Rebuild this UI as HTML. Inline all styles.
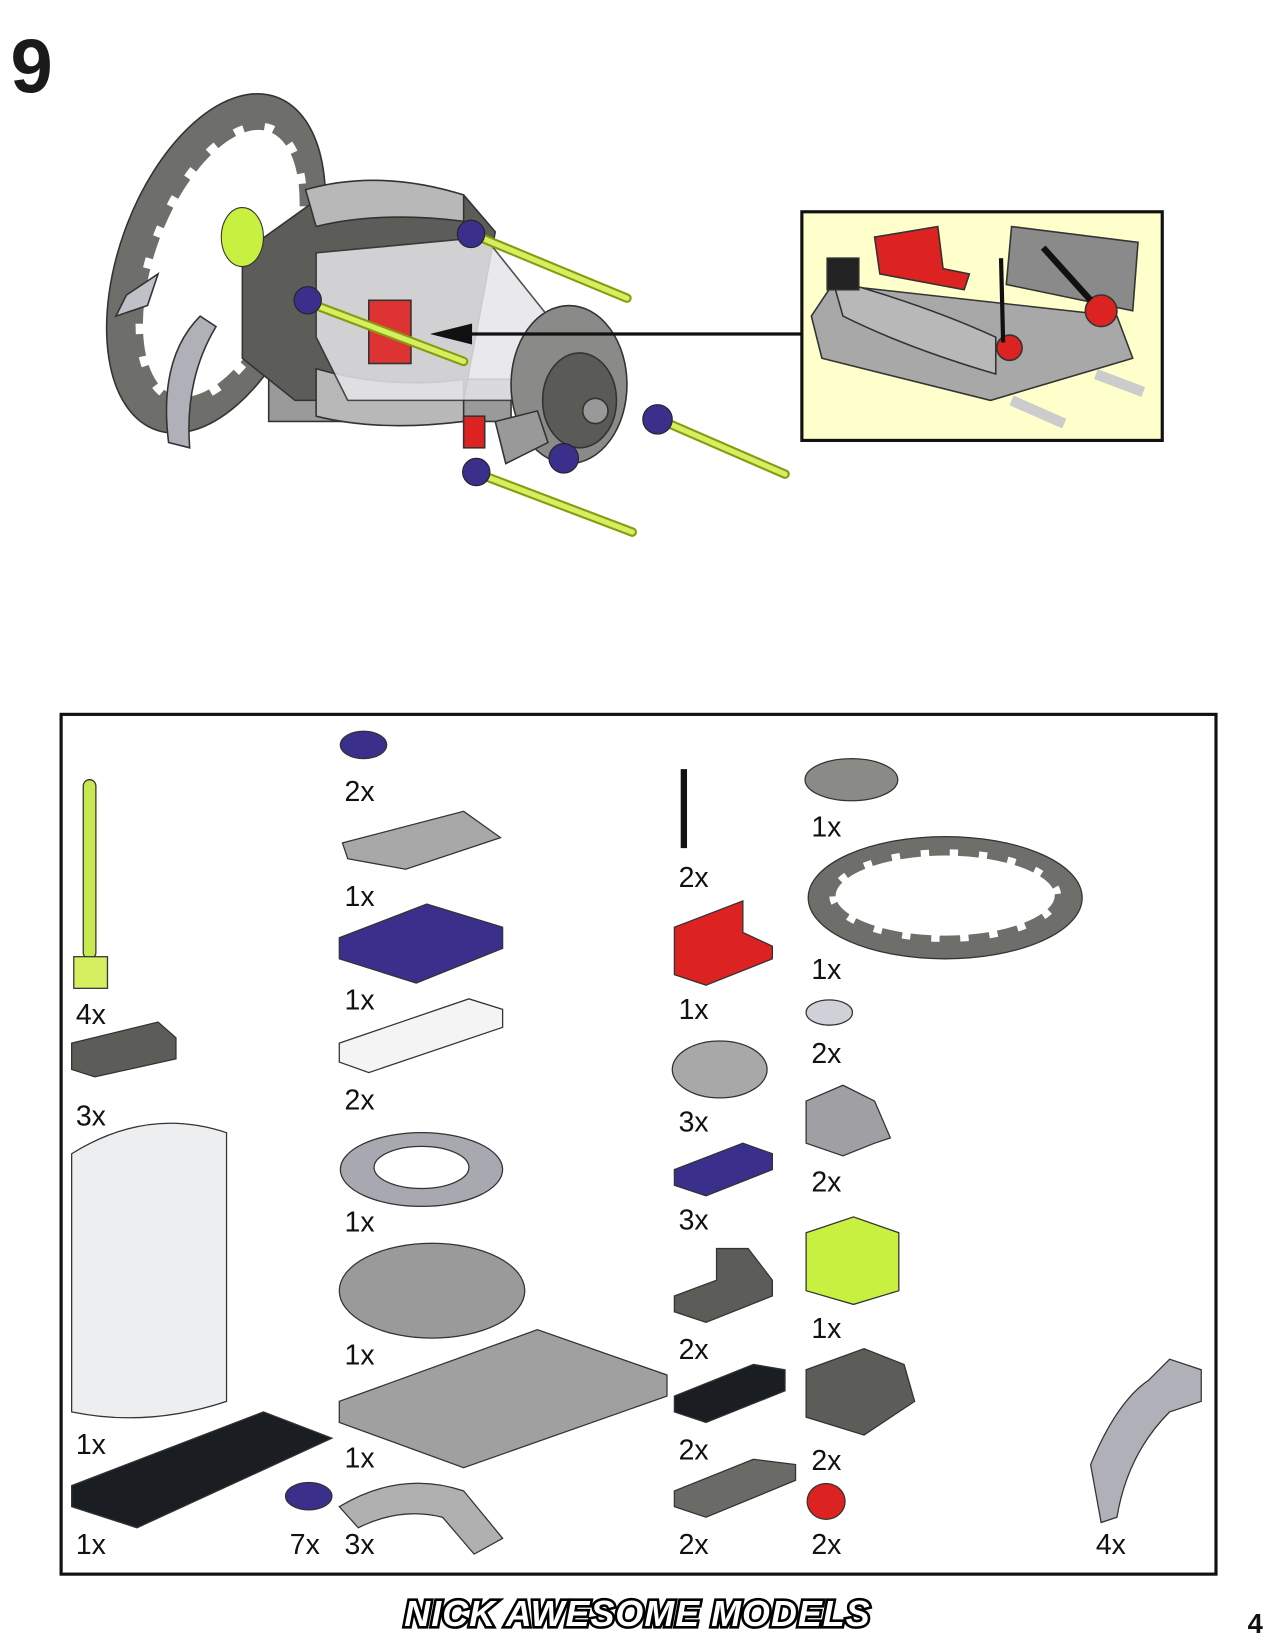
<!DOCTYPE html>
<html><head><style>html,body{margin:0;padding:0;background:#fff}svg{display:block}</style></head>
<body>
<svg width="1275" height="1650" viewBox="0 0 1210 1566" preserveAspectRatio="none" xmlns="http://www.w3.org/2000/svg" font-family="Liberation Sans, sans-serif">
<text x="10" y="88" font-size="72" font-weight="bold" fill="#1a1a1a">9</text>
<!-- main model -->
<g stroke="#333" stroke-width="1.5">
<ellipse cx="205" cy="250" rx="92" ry="168" transform="rotate(20 205 250)" fill="#6e6e6a"/>
<ellipse cx="210" cy="250" rx="70" ry="140" transform="rotate(20 210 250)" fill="#fff" stroke="#6e6e6a" stroke-width="14" stroke-dasharray="22 10"/>
<path d="M150 260 L120 280 L110 300 L140 290 Z" fill="#c0c0c8"/>
<path d="M190 300 Q150 340 160 420 L180 425 Q175 360 205 310 Z" fill="#b0b0b8"/>
<rect x="255" y="360" width="230" height="40" fill="#9a9a9a"/>
<path d="M230 240 L300 190 L440 185 L470 220 L440 380 L280 380 L230 340 Z" fill="#5c5c58"/>
<path d="M290 180 Q360 160 440 185 L440 210 Q360 200 300 215 Z" fill="#b8b8b8"/>
<path d="M300 350 Q370 370 440 360 L440 400 Q360 410 300 395 Z" fill="#b8b8b8"/>
<path d="M300 240 L460 225 L520 300 L520 380 L330 380 L300 320 Z" fill="#e6e6ea" opacity="0.85"/>
<rect x="350" y="285" width="40" height="60" fill="#d33"/>
<ellipse cx="540" cy="365" rx="55" ry="75" fill="#8a8a88"/>
<ellipse cx="550" cy="380" rx="35" ry="45" fill="#5a5a56"/>
<circle cx="565" cy="390" r="12" fill="#999"/>
<path d="M470 400 L510 390 L520 420 L480 440 Z" fill="#999"/>
<rect x="440" y="395" width="20" height="30" fill="#d22"/>
</g>
<g stroke="#8a9a10" stroke-width="9" stroke-linecap="round">
<line x1="455" y1="225" x2="595" y2="283"/>
<line x1="300" y1="290" x2="440" y2="343"/>
<line x1="630" y1="400" x2="745" y2="450"/>
<line x1="455" y1="450" x2="600" y2="505"/>
</g>
<g stroke="#d4f060" stroke-width="5" stroke-linecap="round">
<line x1="455" y1="225" x2="595" y2="283"/>
<line x1="300" y1="290" x2="440" y2="343"/>
<line x1="630" y1="400" x2="745" y2="450"/>
<line x1="455" y1="450" x2="600" y2="505"/>
</g>
<g fill="#3a2f8a" stroke="#222"><circle cx="447" cy="222" r="13"/><circle cx="292" cy="285" r="13"/><circle cx="624" cy="398" r="14"/><circle cx="535" cy="435" r="14"/><circle cx="452" cy="448" r="13"/></g>
<ellipse cx="230" cy="225" rx="20" ry="28" fill="#c8f040" stroke="#333"/>
<!-- callout -->
<rect x="761" y="201" width="342" height="217" fill="#ffffcc" stroke="#111" stroke-width="3"/>
<g stroke="#333" stroke-width="1.5">
<path d="M770 300 L790 270 L1060 300 L1075 340 L940 380 L780 340 Z" fill="#a8a8a8"/>
<path d="M790 265 Q880 290 945 320 L945 355 Q860 330 800 300 Z" fill="#b8b8b8"/>
<path d="M960 215 L1080 230 L1075 295 L955 270 Z" fill="#8a8a8a"/>
<path d="M830 225 L890 215 L895 255 L920 260 L915 275 L835 260 Z" fill="#d22"/>
<rect x="785" y="245" width="30" height="30" fill="#222"/>
<circle cx="958" cy="330" r="12" fill="#d22"/><circle cx="1045" cy="295" r="15" fill="#d22"/>
<line x1="950" y1="245" x2="952" y2="325" stroke="#111" stroke-width="4"/>
<line x1="990" y1="235" x2="1035" y2="285" stroke="#111" stroke-width="6"/>
<line x1="960" y1="380" x2="1010" y2="402" stroke="#ccc" stroke-width="10"/>
<line x1="1040" y1="355" x2="1085" y2="372" stroke="#ccc" stroke-width="10"/>
</g>
<line x1="760" y1="317" x2="440" y2="317" stroke="#111" stroke-width="3"/>
<path d="M408 317 L448 307 L448 327 Z" fill="#111"/>
<!-- parts box -->
<rect x="58" y="678" width="1096" height="816" fill="#fff" stroke="#111" stroke-width="3"/>
<g stroke="#333" stroke-width="1.2">
<rect x="79" y="740" width="12" height="170" rx="6" fill="#c8e850"/>
<rect x="70" y="908" width="32" height="30" fill="#d4f060"/>
<path d="M68 990 L150 970 L167 985 L167 1005 L90 1022 L68 1015 Z" fill="#5c5c58"/>
<path d="M68 1095 Q140 1050 215 1075 L215 1330 Q140 1355 68 1340 Z" fill="#eceef0"/>
<path d="M68 1410 L250 1340 L315 1365 L130 1450 L68 1430 Z" fill="#1a1e22"/>
<ellipse cx="345" cy="707" rx="22" ry="13" fill="#3a2f8a"/>
<path d="M325 800 L440 770 L475 795 L385 825 L330 815 Z" fill="#a8a8a8"/>
<path d="M322 890 L405 858 L477 880 L477 900 L395 933 L322 910 Z" fill="#3a2f8a"/>
<path d="M322 990 L445 948 L477 958 L477 975 L350 1018 L322 1008 Z" fill="#f4f4f4"/>
<ellipse cx="400" cy="1110" rx="77" ry="35" fill="#a8a8b0"/><ellipse cx="400" cy="1108" rx="45" ry="20" fill="#fff"/>
<ellipse cx="410" cy="1225" rx="88" ry="45" fill="#9a9a9a"/>
<path d="M322 1330 L510 1262 L633 1305 L633 1325 L440 1393 L322 1350 Z" fill="#a0a0a0"/>
<ellipse cx="293" cy="1420" rx="22" ry="13" fill="#3a2f8a"/>
<path d="M322 1430 Q380 1395 440 1415 L477 1460 L450 1475 L420 1440 Q380 1430 340 1450 Z" fill="#b0b0b0"/>
<line x1="649" y1="730" x2="649" y2="805" stroke="#111" stroke-width="6"/>
<path d="M640 880 L705 855 L705 885 L733 898 L733 910 L670 935 L640 925 Z" fill="#d22"/>
<ellipse cx="683" cy="1015" rx="45" ry="27" fill="#a8a8a8"/>
<path d="M640 1110 L705 1085 L733 1095 L733 1110 L670 1135 L640 1125 Z" fill="#3a2f8a"/>
<path d="M640 1230 L680 1215 L680 1185 L710 1185 L733 1215 L733 1230 L670 1255 L640 1245 Z" fill="#5c5c58"/>
<path d="M640 1325 L715 1295 L745 1300 L745 1320 L670 1350 L640 1340 Z" fill="#1a1e22"/>
<path d="M640 1415 L715 1385 L755 1390 L755 1405 L670 1440 L640 1430 Z" fill="#6a6a66"/>
<ellipse cx="808" cy="740" rx="44" ry="20" fill="#8a8a86"/>
<ellipse cx="897" cy="852" rx="130" ry="58" fill="#6e6e6a"/><ellipse cx="897" cy="850" rx="110" ry="44" fill="#fff" stroke="#6e6e6a" stroke-width="12" stroke-dasharray="20 8"/>
<ellipse cx="787" cy="961" rx="22" ry="12" fill="#d0d0d8"/>
<path d="M765 1045 L800 1030 L830 1045 L845 1080 L830 1085 L800 1097 L765 1085 Z" fill="#a0a0a4"/>
<path d="M765 1170 L810 1155 L853 1170 L853 1225 L810 1238 L765 1225 Z" fill="#c8f040"/>
<path d="M765 1300 L820 1280 L858 1295 L868 1330 L820 1362 L765 1345 Z" fill="#5c5c58"/>
<ellipse cx="784" cy="1425" rx="18" ry="17" fill="#d22"/>
<path d="M1035 1390 Q1060 1330 1090 1310 L1110 1290 L1140 1300 L1140 1330 L1110 1340 Q1070 1380 1060 1440 L1045 1445 Z" fill="#b0b0b8"/>
</g>
<g font-size="27" fill="#111">
<text x="72" y="972">4x</text><text x="72" y="1068">3x</text><text x="72" y="1380">1x</text><text x="72" y="1475">1x</text>
<text x="327" y="760">2x</text><text x="327" y="860">1x</text><text x="327" y="958">1x</text><text x="327" y="1053">2x</text>
<text x="327" y="1169">1x</text><text x="327" y="1295">1x</text><text x="327" y="1393">1x</text><text x="275" y="1475">7x</text><text x="327" y="1475">3x</text>
<text x="644" y="842">2x</text><text x="644" y="967">1x</text><text x="644" y="1074">3x</text><text x="644" y="1167">3x</text>
<text x="644" y="1290">2x</text><text x="644" y="1385">2x</text><text x="644" y="1475">2x</text>
<text x="770" y="794">1x</text><text x="770" y="929">1x</text><text x="770" y="1009">2x</text><text x="770" y="1131">2x</text>
<text x="770" y="1270">1x</text><text x="770" y="1395">2x</text><text x="770" y="1475">2x</text><text x="1040" y="1475">4x</text>
</g>
<text x="605" y="1543" text-anchor="middle" font-size="34" font-weight="bold" font-style="italic" fill="#fff" stroke="#000" stroke-width="5" paint-order="stroke" letter-spacing="1">NICK AWESOME MODELS</text>
<text x="1184" y="1550" font-size="26" font-weight="bold" fill="#111">4</text>
</svg>
</body></html>
